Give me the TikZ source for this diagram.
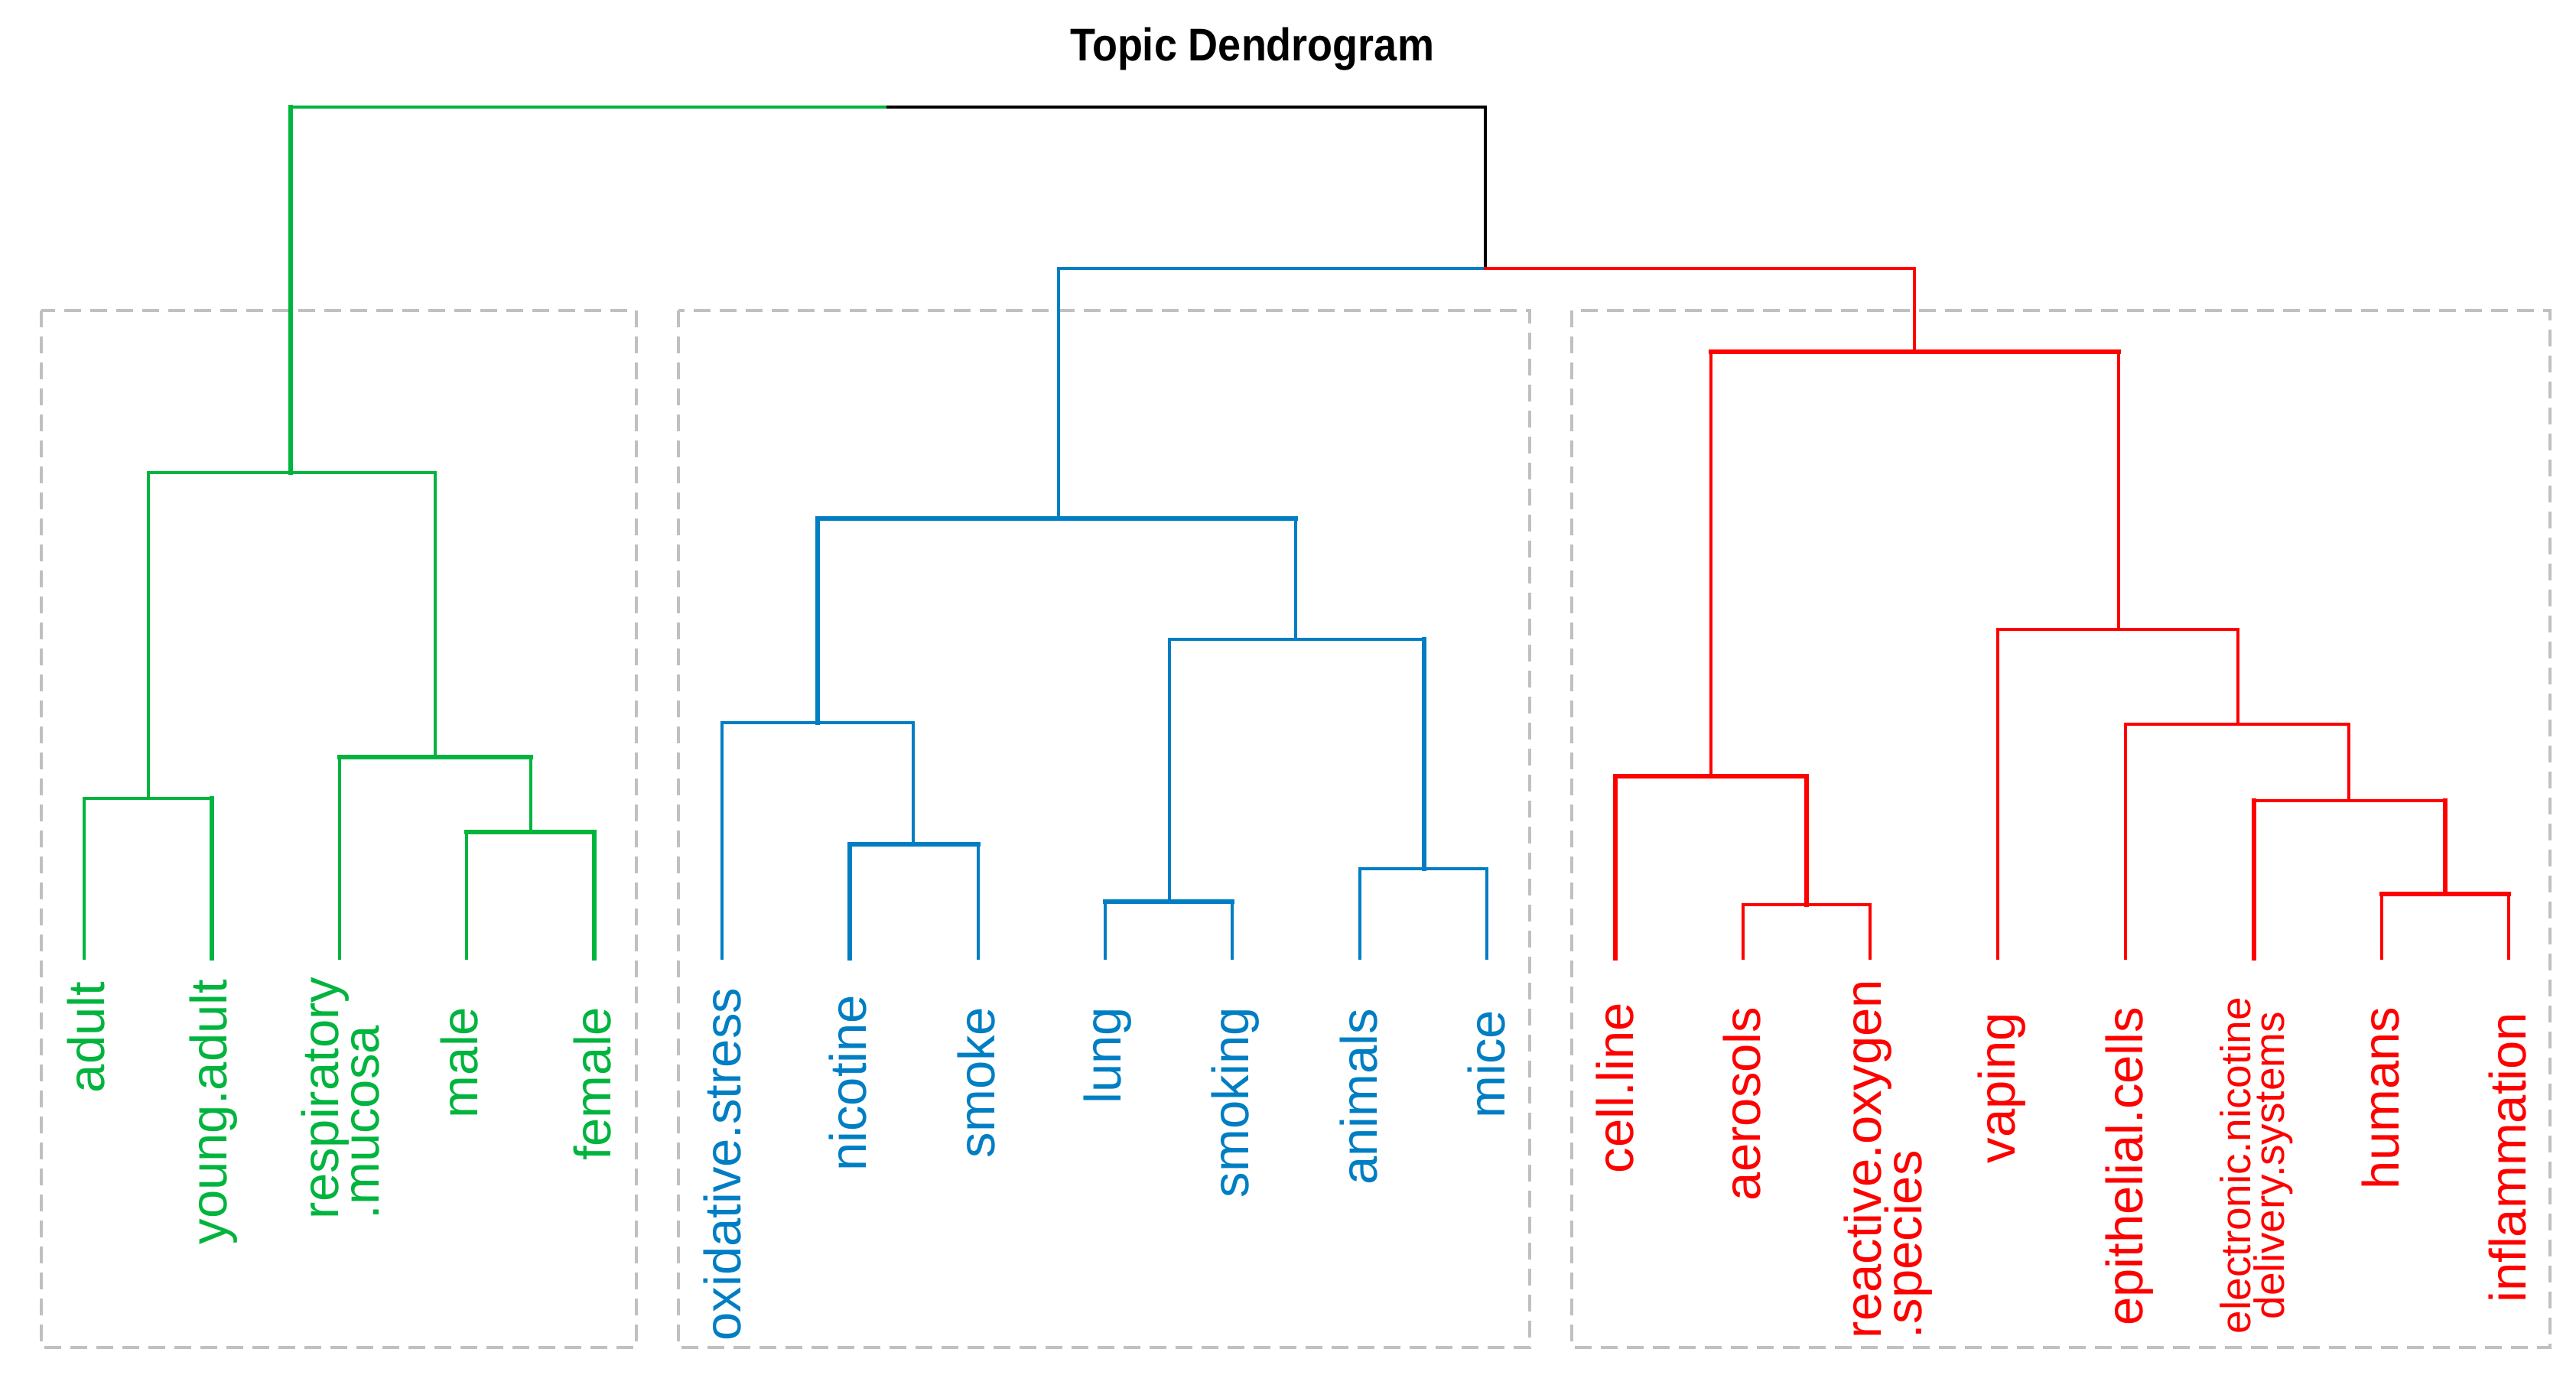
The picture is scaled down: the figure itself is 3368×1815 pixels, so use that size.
\documentclass[tikz,border=0pt]{standalone}
\usepackage{fontspec}
\usepackage{graphicx}
\setmainfont{Liberation Sans}
\definecolor{cgreen}{RGB}{0,180,62}
\definecolor{cblue}{RGB}{0,126,195}
\definecolor{cred}{RGB}{255,0,0}
\definecolor{cgray}{RGB}{192,192,192}
\newcommand\labfont{\fontsize{16.75pt}{13.25pt}\selectfont\lineskiplimit=-100pt}
\newcommand\smlabfont{\fontsize{13.75pt}{11pt}\selectfont\lineskiplimit=-100pt}
\begin{document}
\begin{tikzpicture}[x=0.25pt,y=-0.25pt,
  br/.style={line width=0.9pt, line cap=rect},
  brk/.style={line width=1.45pt, line cap=rect},
  lab/.style={rotate=90, anchor=base east, inner sep=0pt, font=\labfont},
  grpbox/.style={draw=cgray, line width=1.1pt, dash pattern=on 5.5pt off 3pt}]
\useasboundingbox (0,0) rectangle (3368,1815);

% title
\node[anchor=base, inner sep=0pt, font=\fontsize{15pt}{18pt}\selectfont\bfseries] (title) at (1637,80) {\scalebox{0.9}[1]{Topic Dendrogram}};

% group boxes
\draw[grpbox] (54,406) rectangle (832,1762);
\draw[grpbox] (887,406) rectangle (2000,1762);
\draw[grpbox] (2055,406) rectangle (3334,1762);

% ---- coordinates ----
\coordinate (root) at (1161,140);
\coordinate (brj) at (1942,351);
% green
\coordinate (gA) at (110,1253);
\coordinate (gB) at (277,1253);
\coordinate (gC) at (444,1253);
\coordinate (gD) at (610,1253);
\coordinate (gE) at (777,1253);
\coordinate (gAB) at (194,1044);
\coordinate (gDE) at (694,1088);
\coordinate (gCDE) at (569,990);
\coordinate (gG) at (380,618);
% blue
\coordinate (bA) at (944,1253);
\coordinate (bB) at (1111,1253);
\coordinate (bC) at (1279,1253);
\coordinate (bD) at (1445,1253);
\coordinate (bE) at (1611,1253);
\coordinate (bF) at (1778,1253);
\coordinate (bG) at (1944,1253);
\coordinate (bBC) at (1194,1104);
\coordinate (bABC) at (1069,945);
\coordinate (bDE) at (1529,1179);
\coordinate (bFG) at (1862,1136);
\coordinate (bDEFG) at (1694,836);
\coordinate (bR) at (1384,678);
% red
\coordinate (rA) at (2112,1253);
\coordinate (rB) at (2279,1253);
\coordinate (rC) at (2445,1253);
\coordinate (rD) at (2612,1253);
\coordinate (rE) at (2779,1253);
\coordinate (rF) at (2947,1253);
\coordinate (rG) at (3114,1253);
\coordinate (rH) at (3280,1253);
\coordinate (rBC) at (2362,1183);
\coordinate (rABC) at (2237,1015);
\coordinate (rGH) at (3197,1169);
\coordinate (rFGH) at (3071,1047);
\coordinate (rEFGH) at (2926,947);
\coordinate (rDEFGH) at (2770,823);
\coordinate (rR) at (2503,460);

% ---- top levels ----
\draw[br, cgreen] (gG|-root) -- (root);
\draw[br, black] (root) -- (brj|-root) -- (brj);
\draw[brk, cgreen] (gG|-root) -- (gG);
\draw[br, cblue] (bR|-brj) -- (brj);
\draw[br, cred] (brj) -- (rR|-brj);
\draw[br, cblue] (bR|-brj) -- (bR);
\draw[br, cred] (rR|-brj) -- (rR);

% ---- green cluster ----
\begin{scope}[cgreen]
\draw[br] (gAB|-gG) -- (gCDE|-gG);
\draw[br] (gAB|-gG) -- (gAB);
\draw[br] (gCDE|-gG) -- (gCDE);
\draw[br] (gA|-gAB) -- (gB|-gAB);
\draw[br] (gA|-gAB) -- (gA);
\draw[brk] (gB|-gAB) -- (gB);
\draw[brk] (gC|-gCDE) -- (gDE|-gCDE);
\draw[br] (gC|-gCDE) -- (gC);
\draw[br] (gDE|-gCDE) -- (gDE);
\draw[brk] (gD|-gDE) -- (gE|-gDE);
\draw[br] (gD|-gDE) -- (gD);
\draw[brk] (gE|-gDE) -- (gE);
\end{scope}

% ---- blue cluster ----
\begin{scope}[cblue]
\draw[brk] (bABC|-bR) -- (bDEFG|-bR);
\draw[brk] (bABC|-bR) -- (bABC);
\draw[br] (bDEFG|-bR) -- (bDEFG);
\draw[br] (bA|-bABC) -- (bBC|-bABC);
\draw[br] (bA|-bABC) -- (bA);
\draw[br] (bBC|-bABC) -- (bBC);
\draw[brk] (bB|-bBC) -- (bC|-bBC);
\draw[brk] (bB|-bBC) -- (bB);
\draw[br] (bC|-bBC) -- (bC);
\draw[br] (bDE|-bDEFG) -- (bFG|-bDEFG);
\draw[br] (bDE|-bDEFG) -- (bDE);
\draw[brk] (bFG|-bDEFG) -- (bFG);
\draw[brk] (bD|-bDE) -- (bE|-bDE);
\draw[br] (bD|-bDE) -- (bD);
\draw[br] (bE|-bDE) -- (bE);
\draw[br] (bF|-bFG) -- (bG|-bFG);
\draw[br] (bF|-bFG) -- (bF);
\draw[br] (bG|-bFG) -- (bG);
\end{scope}

% ---- red cluster ----
\begin{scope}[cred]
\draw[brk] (rABC|-rR) -- (rDEFGH|-rR);
\draw[br] (rABC|-rR) -- (rABC);
\draw[br] (rDEFGH|-rR) -- (rDEFGH);
\draw[brk] (rA|-rABC) -- (rBC|-rABC);
\draw[brk] (rA|-rABC) -- (rA);
\draw[brk] (rBC|-rABC) -- (rBC);
\draw[br] (rB|-rBC) -- (rC|-rBC);
\draw[br] (rB|-rBC) -- (rB);
\draw[br] (rC|-rBC) -- (rC);
\draw[br] (rD|-rDEFGH) -- (rEFGH|-rDEFGH);
\draw[br] (rD|-rDEFGH) -- (rD);
\draw[br] (rEFGH|-rDEFGH) -- (rEFGH);
\draw[br] (rE|-rEFGH) -- (rFGH|-rEFGH);
\draw[br] (rE|-rEFGH) -- (rE);
\draw[br] (rFGH|-rEFGH) -- (rFGH);
\draw[br] (rF|-rFGH) -- (rGH|-rFGH);
\draw[brk] (rF|-rFGH) -- (rF);
\draw[brk] (rGH|-rFGH) -- (rGH);
\draw[brk] (rG|-rGH) -- (rH|-rGH);
\draw[br] (rG|-rGH) -- (rG);
\draw[br] (rH|-rGH) -- (rH);
\end{scope}

% ---- labels ----
\begin{scope}[text=cgreen]
\node[lab] (lgA) at (136,1283) {adult};
\node[lab] (lgB) at (296,1280) {young.adult};
\node[rotate=90, anchor=north east, inner sep=0pt, align=left, font=\labfont] (lgC) at (393,1277) {respiratory\\.mucosa};
\node[lab] (lgD) at (624,1316) {male};
\node[lab] (lgE) at (798,1316) {female};
\end{scope}
\begin{scope}[text=cblue]
\node[lab] (lbA) at (968,1291) {oxidative.stress};
\node[lab] (lbB) at (1132,1300) {nicotine};
\node[lab] (lbC) at (1300,1316) {smoke};
\node[lab] (lbD) at (1465,1316) {lung};
\node[lab] (lbE) at (1632,1316) {smoking};
\node[lab] (lbF) at (1800,1318) {animals};
\node[lab] (lbG) at (1967,1320) {mice};
\end{scope}
\begin{scope}[text=cred]
\node[lab] (lrA) at (2135,1310) {cell.line};
\node[lab] (lrB) at (2301,1316) {aerosols};
\node[rotate=90, anchor=north east, inner sep=0pt, align=left, font=\labfont] (lrC) at (2410,1280) {reactive.oxygen\\.species};
\node[lab] (lrD) at (2634,1323) {vaping};
\node[lab] (lrE) at (2801,1316) {epithelial.cells};
\node[rotate=90, anchor=north, inner sep=0pt, align=center, font=\smlabfont] (lrF) at (2902,1524) {electronic.nicotine\\delivery.systems};
\node[lab] (lrG) at (3136,1316) {humans};
\node[lab] (lrH) at (3302,1323) {inflammation};
\end{scope}
\end{tikzpicture}
\end{document}
